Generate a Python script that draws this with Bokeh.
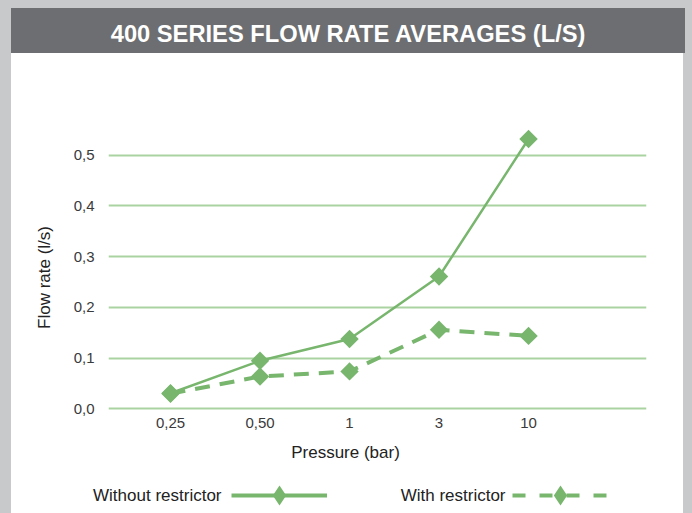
from math import pi
from bokeh.plotting import figure
from bokeh.models import (Range1d, FixedTicker, CustomJSTickFormatter, Label,
                          Legend, LegendItem, ColumnDataSource)
from bokeh.layouts import column, row
from bokeh.embed import file_html
from bokeh.resources import INLINE

# ---------------- data ----------------
title_text = "400 SERIES FLOW RATE AVERAGES (L/S)"
pressure_labels = ["0,25", "0,50", "1", "3", "10"]
without_restrictor = [0.031, 0.095, 0.138, 0.261, 0.532]
with_restrictor = [0.030, 0.064, 0.074, 0.156, 0.144]
y_ticks = [0.0, 0.1, 0.2, 0.3, 0.4, 0.5]
series_names = ["Without restrictor", "With restrictor"]
x_title = "Pressure (bar)"
y_title = "Flow rate (l/s)"

# ---------------- styles ----------------
GREEN = "#78b66e"
GRID = "#a9d3a0"
HEADER = "#6d6e71"
PAGE = "#c8c9ca"
FONT = "Liberation Sans"
TXT = "#222222"
WHITE_BG = {"background-color": "white"}


def blank_fig(width, height, fill, margin):
    f = figure(width=width, height=height, x_range=Range1d(0, 1), y_range=Range1d(0, 1),
               x_axis_type=None, y_axis_type=None, toolbar_location=None,
               output_backend="svg", min_border=0,
               background_fill_color=fill, border_fill_color=fill,
               outline_line_color=None, margin=margin,
               styles={"background-color": fill})
    return f


x_idx = list(range(len(pressure_labels)))
src = ColumnDataSource(dict(x=x_idx, wo=without_restrictor, w=with_restrictor))

# ---------------- header ----------------
header = blank_fig(674, 45, HEADER, (8, 0, 0, 11))
header.add_layout(Label(x=337, y=20, x_units="screen", y_units="screen", text=title_text,
                        text_align="center", text_baseline="middle", text_color="white",
                        text_font=FONT, text_font_style="bold", text_font_size="23.7px"))

common = dict(x_units="screen", y_units="screen", text_font=FONT, text_color=TXT,
              text_font_size="17px", text_baseline="middle")

# ---------------- y title strip ----------------
ytitle = blank_fig(53, 387, "white", (0, 0, 0, 0))
ytitle.add_layout(Label(x=33, y=134, text=y_title, text_align="center", angle=pi / 2, **common))

# ---------------- main chart ----------------
p = figure(width=619, height=387, x_range=Range1d(-0.693, 5.318), y_range=Range1d(-0.005, 0.6),
           toolbar_location=None, output_backend="svg",
           min_border_left=44, min_border_right=37, min_border_top=51, min_border_bottom=29,
           outline_line_color=None, background_fill_color="white", border_fill_color="white",
           styles=WHITE_BG)

p.xaxis.ticker = FixedTicker(ticks=x_idx)
p.xaxis.major_label_overrides = {i: lab for i, lab in zip(x_idx, pressure_labels)}
p.yaxis.ticker = FixedTicker(ticks=y_ticks)
p.yaxis.formatter = CustomJSTickFormatter(code="return tick.toFixed(1).replace('.', ',');")
for ax in (p.xaxis, p.yaxis):
    ax.axis_line_color = None
    ax.major_tick_line_color = None
    ax.minor_tick_line_color = None
    ax.major_tick_out = 0
    ax.major_label_text_font = FONT
    ax.major_label_text_font_size = "15px"
    ax.major_label_text_color = "#3a3a3a"
p.xaxis.major_label_standoff = 6
p.yaxis.major_label_standoff = 14
p.yaxis.major_label_text_baseline = "alphabetic"

p.xgrid.visible = False
p.ygrid.grid_line_color = GRID
p.ygrid.grid_line_width = 2

p.line("x", "wo", source=src, line_color=GREEN, line_width=2.5)
p.scatter("x", "wo", source=src, marker="square", size=13, angle=pi / 4,
          fill_color=GREEN, line_color=None)
p.line("x", "w", source=src, line_color=GREEN, line_width=4, line_dash="15 10")
p.scatter("x", "w", source=src, marker="square", size=13, angle=pi / 4,
          fill_color=GREEN, line_color=None)

# ---------------- legend strip ----------------
# legend keys: hidden copies of the series (same source) so the legend can draw its samples
leg = blank_fig(672, 73, "white", (0, 0, 0, 11))
l1 = leg.line("x", "wo", source=src, line_color=GREEN, line_width=4, visible=False)
m1 = leg.scatter("x", "wo", source=src, marker="diamond", size=20,
                 fill_color=GREEN, line_color=None, visible=False)
l2 = leg.line("x", "w", source=src, line_color=GREEN, line_width=4, line_dash="13 14",
              visible=False)
m2 = leg.scatter("x", "w", source=src, marker="diamond", size=20,
                 fill_color=GREEN, line_color=None, visible=False)
legend = Legend(items=[LegendItem(label=" ", renderers=[l1, m1]),
                       LegendItem(label=" ", renderers=[l2, m2])],
                orientation="horizontal", location=(220, -7),
                glyph_width=96, glyph_height=50, label_width=0, label_standoff=0,
                spacing=185, padding=0, margin=0,
                background_fill_alpha=0, border_line_alpha=0,
                inactive_fill_alpha=0,
                label_text_font_size="1px")
leg.add_layout(legend, "center")
leg.add_layout(Label(x=210, y=18, text=series_names[0], text_align="right", **common))
leg.add_layout(Label(x=494, y=18, text=series_names[1], text_align="right", **common))
leg.add_layout(Label(x=334, y=61, text=x_title, text_align="center", **common))

layout = column(header, row(ytitle, p, margin=(0, 0, 0, 11), styles=WHITE_BG), leg, spacing=0)

html = file_html(layout, INLINE)
html = html.replace("</head>",
                    "<style>html,body{background:%s;overflow:hidden;}</style></head>" % PAGE, 1)
open("out.html", "w").write(html)
